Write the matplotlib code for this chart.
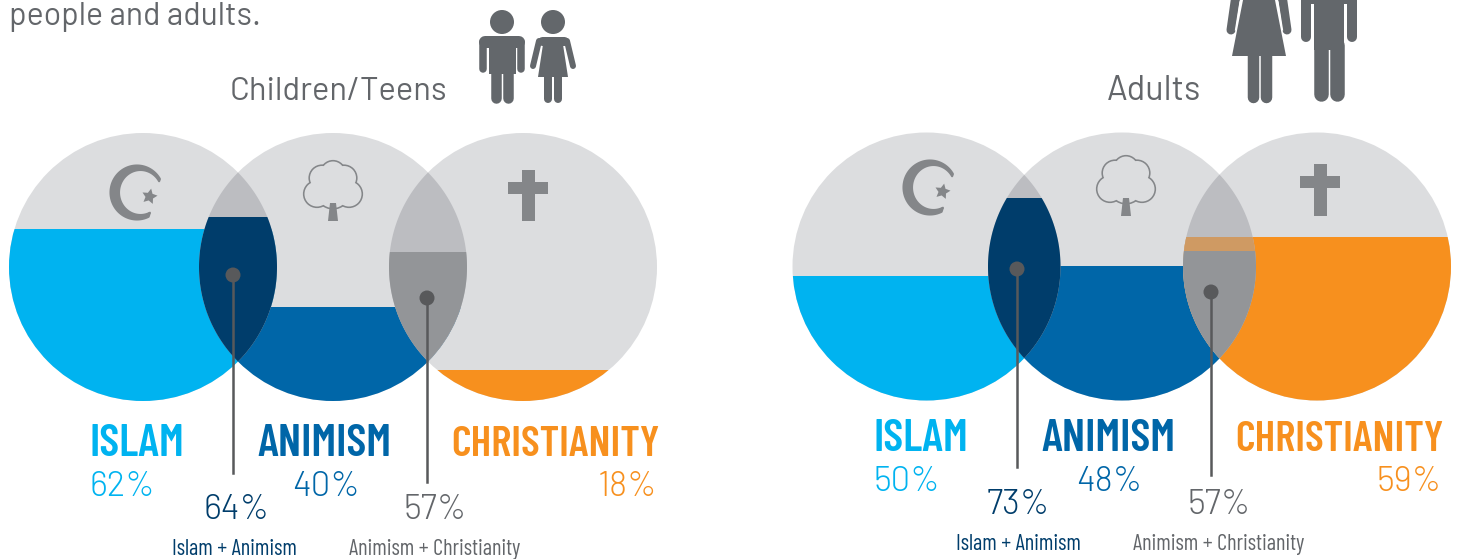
#Venn style chart of religion practice among children/teens and adults

import numpy as np
import matplotlib
matplotlib.use("Agg")
import matplotlib.pyplot as plt
from matplotlib.patches import Circle, Polygon, Rectangle, Ellipse, PathPatch
from matplotlib.path import Path

#-----------------------------------------------------------------------#
# Data
#-----------------------------------------------------------------------#
religions = ["ISLAM", "ANIMISM", "CHRISTIANITY"]
overlapNames = ["Islam + Animism", "Animism + Christianity"]
groups = ["Children/Teens", "Adults"]

childValues = [62, 40, 18]
childOverlaps = [64, 57]
adultValues = [50, 48, 59]
adultOverlaps = [73, 57]

# how high the colour stands inside each circle (share of the diameter)
childLevels = [0.642, 0.351, 0.116]
childOverlapLevels = [0.687, 0.556]
adultLevels = [0.464, 0.502, 0.610]
adultOverlapLevels = [0.757, 0.558]

#-----------------------------------------------------------------------#
# Colours and layout
#-----------------------------------------------------------------------#
LIGHT = "#DCDDDF"
LENS = "#BCBDC1"
ICON = "#848689"
PERSON = "#63676B"
TEXT = "#63666A"
DOT = "#58595B"
colors = ["#00B3F0", "#0066A8", "#F7901E"]
overlapColors = ["#003D6B", "#939598"]
BAND = "#CF9A63"

NARROW = ["Barlow Condensed", "Roboto Condensed", "DejaVu Sans"]
PLAIN = ["Barlow", "Lato", "DejaVu Sans"]
nameSizes = [33, 33, 31]

plt.rcParams["font.family"] = PLAIN

fig = plt.figure(figsize=(14.57, 5.59), dpi=100)
ax = fig.add_axes([0, 0, 1, 1])
ax.set_xlim(0, 1457)
ax.set_ylim(559, 0)
ax.axis("off")


def lens_path(x1, x2, cy, r):
    half = (x2 - x1) / 2
    a = np.arccos(half / r)
    t = np.linspace(-a, a, 80)
    right = np.column_stack([x1 + r * np.cos(t), cy + r * np.sin(t)])
    left = np.column_stack([x2 - r * np.cos(t[::-1]), cy + r * np.sin(t[::-1])])
    return Path(np.vstack([right, left, right[:1]]), closed=True)


def level_y(level, cy, r):
    return cy + r - 2 * r * level


def fill_below(y, color, clip, zorder):
    patch = Rectangle((0, y), 1457, 559 - y, facecolor=color, edgecolor="none", zorder=zorder)
    ax.add_patch(patch)
    patch.set_clip_path(clip, ax.transData)


def crescent(cx, cy):
    t = np.radians(np.linspace(30, 296, 80))
    outer = np.column_stack([cx + 26.5 * np.cos(t), cy - 27 * np.sin(t)])
    t2 = t[::-1]
    inner = np.column_stack([cx + 3.5 + 21.5 * np.cos(t2), cy - 22.5 * np.sin(t2)])
    ax.add_patch(Polygon(np.vstack([outer, inner]), closed=True, facecolor=ICON, edgecolor=ICON,
                         lw=1.5, joinstyle="round", zorder=6))
    ax.scatter([cx + 11.5], [cy + 3], marker=(5, 1, -12), s=135, color=ICON, linewidths=0, zorder=6)


def tree(cx, top):
    lobes = [(-16, 32, 12.5), (16, 32, 12.5), (-11, 16, 12), (11, 16, 12), (0, 11, 11.5), (0, 30, 16)]
    for dx, dy, rad in lobes:
        ax.add_patch(Circle((cx + dx, top + dy), rad + 1.6, facecolor=ICON, edgecolor="none", zorder=5))
    for dx, dy, rad in lobes:
        ax.add_patch(Circle((cx + dx, top + dy), rad, facecolor=LIGHT, edgecolor="none", zorder=5.1))
    ax.add_patch(Polygon([(cx - 3, top + 41), (cx + 3, top + 41), (cx + 5, top + 59), (cx - 5, top + 59)],
                         closed=True, facecolor=ICON, edgecolor="none", zorder=6))


def cross(cx, top, bottom, barTop):
    ax.add_patch(Rectangle((cx - 6.5, top), 13, bottom - top, facecolor=ICON, edgecolor="none", zorder=6))
    ax.add_patch(Rectangle((cx - 20, barTop), 40, 12, facecolor=ICON, edgecolor="none", zorder=6))


def limb(xs, ys, width):
    ax.plot(xs, ys, color=PERSON, lw=width * 0.72, solid_capstyle="round", zorder=6)


def boy(cx):
    ax.add_patch(Circle((cx, 22), 12, facecolor=PERSON, edgecolor="none"))
    limb([cx - 17, cx + 17], [42, 42], 12)
    ax.add_patch(Rectangle((cx - 13.5, 38), 27, 36, facecolor=PERSON, edgecolor="none", zorder=6))
    limb([cx - 19, cx - 19], [42, 69], 7.5)
    limb([cx + 19, cx + 19], [42, 69], 7.5)
    limb([cx - 6, cx - 6], [66, 98], 10.5)
    limb([cx + 6, cx + 6], [66, 98], 10.5)


def girl(cx):
    ax.add_patch(Circle((cx, 22), 12, facecolor=PERSON, edgecolor="none"))
    limb([cx - 11, cx + 11], [41, 41], 9)
    ax.add_patch(Polygon([(cx - 9, 38), (cx + 9, 38), (cx + 15, 77), (cx - 15, 77)], closed=True,
                         facecolor=PERSON, edgecolor="none", zorder=6))
    limb([cx - 14, cx - 20], [41, 66], 6)
    limb([cx + 14, cx + 20], [41, 66], 6)
    limb([cx - 5, cx - 5], [75, 99], 8)
    limb([cx + 5, cx + 5], [75, 99], 8)


def woman(cx):
    ax.add_patch(Polygon([(cx - 15, -5), (cx + 15, -5), (cx + 27, 56), (cx - 27, 56)], closed=True,
                         facecolor=PERSON, edgecolor="none", zorder=6))
    limb([cx - 23, cx - 28], [-5, 30], 9)
    limb([cx + 23, cx + 28], [-5, 30], 9)
    ax.plot([cx - 19, cx - 23.5], [2, 30], color="white", lw=0.9, zorder=7)
    ax.plot([cx + 19, cx + 23.5], [2, 30], color="white", lw=0.9, zorder=7)
    limb([cx - 6.5, cx - 6.5], [54, 97], 11.5)
    limb([cx + 6.5, cx + 6.5], [54, 97], 11.5)


def man(cx):
    ax.add_patch(Rectangle((cx - 15, -5), 30, 55, facecolor=PERSON, edgecolor="none", zorder=6))
    ax.add_patch(Rectangle((cx - 28, -5), 56, 9, facecolor=PERSON, edgecolor="none", zorder=6))
    limb([cx - 23, cx - 23], [-5, 37], 10)
    limb([cx + 23, cx + 23], [-5, 37], 10)
    limb([cx - 8, cx - 8], [45, 94], 14.5)
    limb([cx + 8, cx + 8], [45, 94], 14.5)


def panel(centers, cy, r, values, overlaps, levels, overlapLevels, labelY, crescentAt, treeAt, crossAt,
          nameX, pctX, overlapX, overlapLabelX, dots, lineEnds):
    # grey circles, then the coloured part of each one
    for i, cx in enumerate(centers):
        ax.add_patch(Circle((cx, cy), r, facecolor=LIGHT, edgecolor="none", zorder=1))
    for i, cx in enumerate(centers):
        clip = Path.circle((cx, cy), r)
        fill_below(level_y(levels[i], cy, r), colors[i], clip, 2)

    # the overlaps sit on top
    for i in range(2):
        lens = lens_path(centers[i], centers[i + 1], cy, r)
        ax.add_patch(PathPatch(lens, facecolor=LENS, edgecolor="none", zorder=3))
        y = level_y(overlapLevels[i], cy, r)
        fill_below(y, overlapColors[i], lens, 4)
        # Christianity standing above the overlap level shows as a tan band
        yBand = level_y(levels[i + 1], cy, r)
        if i == 1 and yBand < y:
            band = Rectangle((0, yBand), 1457, y - yBand, facecolor=BAND, edgecolor="none", zorder=4)
            ax.add_patch(band)
            band.set_clip_path(lens, ax.transData)

    crescent(*crescentAt)
    tree(*treeAt)
    cross(*crossAt)

    # names and numbers
    for i, name in enumerate(religions):
        ax.text(nameX[i], labelY, name, color=colors[i], family=NARROW, weight=600, fontsize=nameSizes[i],
                ha="left", va="baseline", zorder=8)
        ha = "right" if i == 2 else "left"
        ax.text(pctX[i], labelY + 40, str(values[i]) + "%", color=colors[i], family=PLAIN, weight=300,
                fontsize=25, ha=ha, va="baseline", zorder=8)
    for i, name in enumerate(overlapNames):
        color = "#003D6B" if i == 0 else TEXT
        ax.text(overlapX[i], labelY + 63, str(overlaps[i]) + "%", color=color, family=PLAIN, weight=300,
                fontsize=25, ha="left", va="baseline", zorder=8)
        ax.text(overlapLabelX[i], labelY + 99, name, color=color, family=NARROW, weight=400, fontsize=16,
                ha="left", va="baseline", zorder=8)
        ax.plot([dots[i][0], dots[i][0]], [dots[i][1], lineEnds[i]], color=DOT, lw=1.8, zorder=7)
        ax.add_patch(Ellipse(dots[i], 15, 15, facecolor=DOT, edgecolor="none", zorder=7))


panel([143, 333, 523], 267, 134, childValues, childOverlaps, childLevels, childOverlapLevels, 456,
      (137, 192.5), (333, 162), (528, 170, 221, 182),
      [89, 257, 451], [89, 292, 657], [203, 403], [172, 349], [(233, 275), (427, 298)], [473, 482])

panel([926.5, 1122, 1317], 266.5, 134, adultValues, adultOverlaps, adultLevels, adultOverlapLevels, 451,
      (930, 187.5), (1126, 157), (1320, 164, 216, 176),
      [873, 1041, 1235], [873, 1076, 1442], [987, 1187], [956, 1133], [(1017, 269), (1211, 292)], [467, 475])

# group headers and figures
ax.text(230, 100, groups[0], color=TEXT, family=PLAIN, fontsize=23.5, ha="left", va="baseline")
ax.text(1107, 100, groups[1], color=TEXT, family=PLAIN, fontsize=24.5, ha="left", va="baseline")
ax.text(9, 25, "people and adults.", color=TEXT, family=PLAIN, fontsize=23, ha="left", va="baseline")

boy(502)
girl(553)
woman(1259)
man(1329)

fig.savefig("out.png", dpi=100)
